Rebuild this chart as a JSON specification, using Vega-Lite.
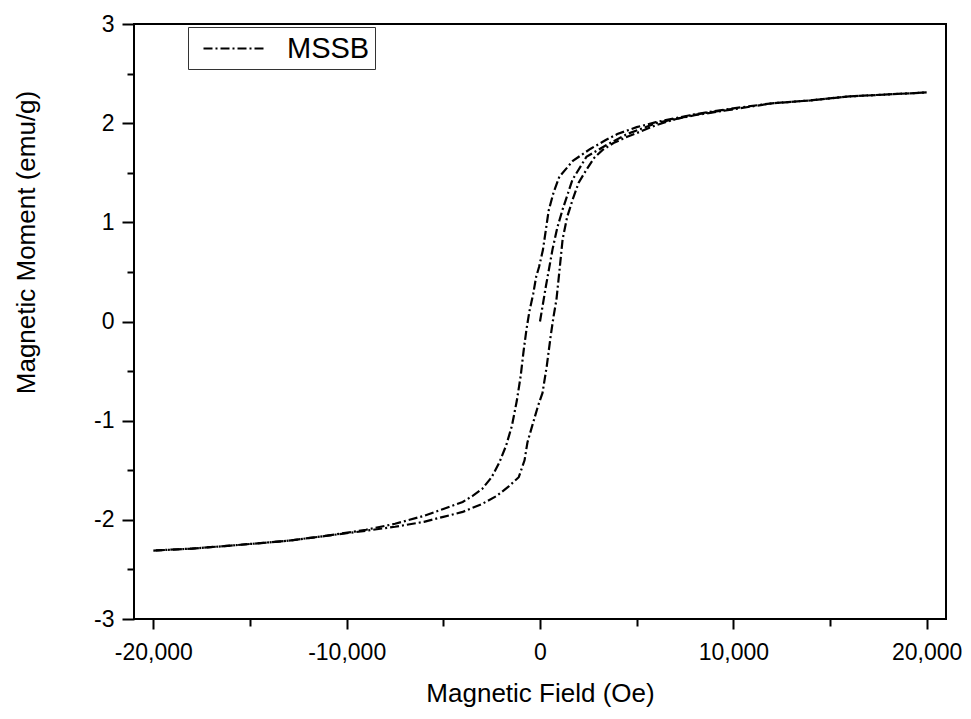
{
  "$schema": "https://vega.github.io/schema/vega-lite/v6.json",
  "autosize": {"type": "none"},
  "width": 812,
  "height": 595,
  "padding": {"left": 134, "top": 24, "right": 25, "bottom": 100},
  "background": "white",
  "config": {
    "font": "Liberation Sans",
    "view": {"stroke": "black", "strokeWidth": 2}
  },
  "data": {
    "values": [
      {"H": 20000, "M": 2.31, "branch": "desc", "o": 1, "s": "MSSB"},
      {"H": 18000, "M": 2.29, "branch": "desc", "o": 2, "s": "MSSB"},
      {"H": 16000, "M": 2.27, "branch": "desc", "o": 3, "s": "MSSB"},
      {"H": 14000, "M": 2.23, "branch": "desc", "o": 4, "s": "MSSB"},
      {"H": 12000, "M": 2.2, "branch": "desc", "o": 5, "s": "MSSB"},
      {"H": 10000, "M": 2.15, "branch": "desc", "o": 6, "s": "MSSB"},
      {"H": 8000, "M": 2.09, "branch": "desc", "o": 7, "s": "MSSB"},
      {"H": 7000, "M": 2.05, "branch": "desc", "o": 8, "s": "MSSB"},
      {"H": 6000, "M": 2.01, "branch": "desc", "o": 9, "s": "MSSB"},
      {"H": 5000, "M": 1.96, "branch": "desc", "o": 10, "s": "MSSB"},
      {"H": 4000, "M": 1.89, "branch": "desc", "o": 11, "s": "MSSB"},
      {"H": 3400, "M": 1.83, "branch": "desc", "o": 12, "s": "MSSB"},
      {"H": 2600, "M": 1.74, "branch": "desc", "o": 13, "s": "MSSB"},
      {"H": 1700, "M": 1.62, "branch": "desc", "o": 14, "s": "MSSB"},
      {"H": 1000, "M": 1.46, "branch": "desc", "o": 15, "s": "MSSB"},
      {"H": 700, "M": 1.3, "branch": "desc", "o": 16, "s": "MSSB"},
      {"H": 450, "M": 1.12, "branch": "desc", "o": 17, "s": "MSSB"},
      {"H": 300, "M": 0.92, "branch": "desc", "o": 18, "s": "MSSB"},
      {"H": 150, "M": 0.72, "branch": "desc", "o": 19, "s": "MSSB"},
      {"H": -50, "M": 0.55, "branch": "desc", "o": 20, "s": "MSSB"},
      {"H": -200, "M": 0.45, "branch": "desc", "o": 21, "s": "MSSB"},
      {"H": -350, "M": 0.28, "branch": "desc", "o": 22, "s": "MSSB"},
      {"H": -550, "M": 0.1, "branch": "desc", "o": 23, "s": "MSSB"},
      {"H": -700, "M": -0.08, "branch": "desc", "o": 24, "s": "MSSB"},
      {"H": -850, "M": -0.3, "branch": "desc", "o": 25, "s": "MSSB"},
      {"H": -1000, "M": -0.55, "branch": "desc", "o": 26, "s": "MSSB"},
      {"H": -1200, "M": -0.8, "branch": "desc", "o": 27, "s": "MSSB"},
      {"H": -1450, "M": -1.05, "branch": "desc", "o": 28, "s": "MSSB"},
      {"H": -1750, "M": -1.25, "branch": "desc", "o": 29, "s": "MSSB"},
      {"H": -2100, "M": -1.42, "branch": "desc", "o": 30, "s": "MSSB"},
      {"H": -2500, "M": -1.57, "branch": "desc", "o": 31, "s": "MSSB"},
      {"H": -3000, "M": -1.69, "branch": "desc", "o": 32, "s": "MSSB"},
      {"H": -3500, "M": -1.76, "branch": "desc", "o": 33, "s": "MSSB"},
      {"H": -4000, "M": -1.82, "branch": "desc", "o": 34, "s": "MSSB"},
      {"H": -5000, "M": -1.89, "branch": "desc", "o": 35, "s": "MSSB"},
      {"H": -6000, "M": -1.96, "branch": "desc", "o": 36, "s": "MSSB"},
      {"H": -7500, "M": -2.04, "branch": "desc", "o": 37, "s": "MSSB"},
      {"H": -9000, "M": -2.1, "branch": "desc", "o": 38, "s": "MSSB"},
      {"H": -11000, "M": -2.16, "branch": "desc", "o": 39, "s": "MSSB"},
      {"H": -13000, "M": -2.21, "branch": "desc", "o": 40, "s": "MSSB"},
      {"H": -16000, "M": -2.26, "branch": "desc", "o": 41, "s": "MSSB"},
      {"H": -18000, "M": -2.29, "branch": "desc", "o": 42, "s": "MSSB"},
      {"H": -20000, "M": -2.31, "branch": "desc", "o": 43, "s": "MSSB"},
      {"H": -20000, "M": -2.31, "branch": "asc", "o": 44, "s": "MSSB"},
      {"H": -18000, "M": -2.29, "branch": "asc", "o": 45, "s": "MSSB"},
      {"H": -16000, "M": -2.26, "branch": "asc", "o": 46, "s": "MSSB"},
      {"H": -13000, "M": -2.21, "branch": "asc", "o": 47, "s": "MSSB"},
      {"H": -11000, "M": -2.16, "branch": "asc", "o": 48, "s": "MSSB"},
      {"H": -9000, "M": -2.11, "branch": "asc", "o": 49, "s": "MSSB"},
      {"H": -7500, "M": -2.07, "branch": "asc", "o": 50, "s": "MSSB"},
      {"H": -6000, "M": -2.02, "branch": "asc", "o": 51, "s": "MSSB"},
      {"H": -5000, "M": -1.97, "branch": "asc", "o": 52, "s": "MSSB"},
      {"H": -4000, "M": -1.92, "branch": "asc", "o": 53, "s": "MSSB"},
      {"H": -3000, "M": -1.84, "branch": "asc", "o": 54, "s": "MSSB"},
      {"H": -2250, "M": -1.76, "branch": "asc", "o": 55, "s": "MSSB"},
      {"H": -1600, "M": -1.66, "branch": "asc", "o": 56, "s": "MSSB"},
      {"H": -1100, "M": -1.57, "branch": "asc", "o": 57, "s": "MSSB"},
      {"H": -800, "M": -1.4, "branch": "asc", "o": 58, "s": "MSSB"},
      {"H": -650, "M": -1.22, "branch": "asc", "o": 59, "s": "MSSB"},
      {"H": -400, "M": -1.05, "branch": "asc", "o": 60, "s": "MSSB"},
      {"H": -100, "M": -0.85, "branch": "asc", "o": 61, "s": "MSSB"},
      {"H": 130, "M": -0.72, "branch": "asc", "o": 62, "s": "MSSB"},
      {"H": 350, "M": -0.45, "branch": "asc", "o": 63, "s": "MSSB"},
      {"H": 550, "M": -0.15, "branch": "asc", "o": 64, "s": "MSSB"},
      {"H": 700, "M": 0.05, "branch": "asc", "o": 65, "s": "MSSB"},
      {"H": 850, "M": 0.22, "branch": "asc", "o": 66, "s": "MSSB"},
      {"H": 1000, "M": 0.5, "branch": "asc", "o": 67, "s": "MSSB"},
      {"H": 1170, "M": 0.83, "branch": "asc", "o": 68, "s": "MSSB"},
      {"H": 1400, "M": 1.05, "branch": "asc", "o": 69, "s": "MSSB"},
      {"H": 1690, "M": 1.23, "branch": "asc", "o": 70, "s": "MSSB"},
      {"H": 2000, "M": 1.4, "branch": "asc", "o": 71, "s": "MSSB"},
      {"H": 2400, "M": 1.53, "branch": "asc", "o": 72, "s": "MSSB"},
      {"H": 2800, "M": 1.65, "branch": "asc", "o": 73, "s": "MSSB"},
      {"H": 3240, "M": 1.73, "branch": "asc", "o": 74, "s": "MSSB"},
      {"H": 3800, "M": 1.8, "branch": "asc", "o": 75, "s": "MSSB"},
      {"H": 4480, "M": 1.86, "branch": "asc", "o": 76, "s": "MSSB"},
      {"H": 5000, "M": 1.9, "branch": "asc", "o": 77, "s": "MSSB"},
      {"H": 6000, "M": 1.98, "branch": "asc", "o": 78, "s": "MSSB"},
      {"H": 7000, "M": 2.04, "branch": "asc", "o": 79, "s": "MSSB"},
      {"H": 8000, "M": 2.08, "branch": "asc", "o": 80, "s": "MSSB"},
      {"H": 10000, "M": 2.14, "branch": "asc", "o": 81, "s": "MSSB"},
      {"H": 12000, "M": 2.2, "branch": "asc", "o": 82, "s": "MSSB"},
      {"H": 14000, "M": 2.23, "branch": "asc", "o": 83, "s": "MSSB"},
      {"H": 16000, "M": 2.27, "branch": "asc", "o": 84, "s": "MSSB"},
      {"H": 18000, "M": 2.29, "branch": "asc", "o": 85, "s": "MSSB"},
      {"H": 20000, "M": 2.31, "branch": "asc", "o": 86, "s": "MSSB"},
      {"H": 0, "M": 0.0, "branch": "virgin", "o": 87, "s": "MSSB"},
      {"H": 300, "M": 0.35, "branch": "virgin", "o": 88, "s": "MSSB"},
      {"H": 650, "M": 0.73, "branch": "virgin", "o": 89, "s": "MSSB"},
      {"H": 900, "M": 0.95, "branch": "virgin", "o": 90, "s": "MSSB"},
      {"H": 1170, "M": 1.13, "branch": "virgin", "o": 91, "s": "MSSB"},
      {"H": 1680, "M": 1.43, "branch": "virgin", "o": 92, "s": "MSSB"},
      {"H": 2400, "M": 1.66, "branch": "virgin", "o": 93, "s": "MSSB"},
      {"H": 3440, "M": 1.78, "branch": "virgin", "o": 94, "s": "MSSB"},
      {"H": 4500, "M": 1.89, "branch": "virgin", "o": 95, "s": "MSSB"},
      {"H": 6000, "M": 2.0, "branch": "virgin", "o": 96, "s": "MSSB"},
      {"H": 8000, "M": 2.085, "branch": "virgin", "o": 97, "s": "MSSB"},
      {"H": 10000, "M": 2.145, "branch": "virgin", "o": 98, "s": "MSSB"}
    ]
  },
  "mark": {"type": "line", "strokeWidth": 2.2, "strokeDash": [9, 3, 2, 3], "clip": true},
  "encoding": {
    "x": {
      "field": "H",
      "type": "quantitative",
      "scale": {"domain": [-21000, 21000], "nice": false, "zero": false},
      "axis": {
        "title": "Magnetic Field (Oe)",
        "values": [-20000, -15000, -10000, -5000, 0, 5000, 10000, 15000, 20000],
        "labelExpr": "datum.value % 10000 !== 0 ? '' : (datum.value < 0 ? '-' : '') + format(abs(datum.value), ',')",
        "domain": false,
        "grid": false,
        "tickColor": "black",
        "tickWidth": 2,
        "tickSize": {"condition": {"test": "datum.value % 10000 !== 0", "value": 7}, "value": 10},
        "labelFont": "Liberation Sans",
        "labelFontSize": 23,
        "labelColor": "black",
        "labelPadding": 12,
        "labelFlush": false,
        "labelOverlap": false,
        "titleFont": "Liberation Sans",
        "titleFontSize": 26,
        "titleFontWeight": "normal",
        "titleColor": "black",
        "titleBaseline": "alphabetic",
        "titleY": 82
      }
    },
    "y": {
      "field": "M",
      "type": "quantitative",
      "scale": {"domain": [-3, 3], "nice": false, "zero": false},
      "axis": {
        "title": "Magnetic Moment (emu/g)",
        "values": [-3, -2.5, -2, -1.5, -1, -0.5, 0, 0.5, 1, 1.5, 2, 2.5, 3],
        "labelExpr": "datum.value % 1 !== 0 ? '' : (datum.value < 0 ? '-' : '') + format(abs(datum.value), 'd')",
        "domain": false,
        "grid": false,
        "tickColor": "black",
        "tickWidth": 2,
        "tickSize": {"condition": {"test": "datum.value % 1 !== 0", "value": 7}, "value": 12},
        "labelFont": "Liberation Sans",
        "labelFontSize": 23,
        "labelColor": "black",
        "labelPadding": 8,
        "labelFlush": false,
        "labelOverlap": false,
        "titleFont": "Liberation Sans",
        "titleFontSize": 26,
        "titleFontWeight": "normal",
        "titleColor": "black",
        "titleAngle": -90,
        "titleBaseline": "middle",
        "titleAlign": "center",
        "titleX": -108,
        "titleY": 218
      }
    },
    "detail": {"field": "branch"},
    "order": {"field": "o", "type": "quantitative"},
    "color": {
      "field": "s",
      "type": "nominal",
      "scale": {"range": ["black"]},
      "legend": {
        "title": null,
        "orient": "none",
        "legendX": 54,
        "legendY": 3,
        "padding": 5,
        "strokeColor": "#333",
        "fillColor": "white",
        "symbolType": "M-2,0H2",
        "symbolSize": 961,
        "symbolStrokeWidth": 2,
        "symbolStrokeColor": "black",
        "symbolDash": [9, 3, 2, 3],
        "symbolOffset": 25,
        "labelOffset": 36,
        "labelFont": "Liberation Sans",
        "labelFontSize": 29,
        "labelColor": "black",
        "labelLimit": 300
      }
    }
  }
}
